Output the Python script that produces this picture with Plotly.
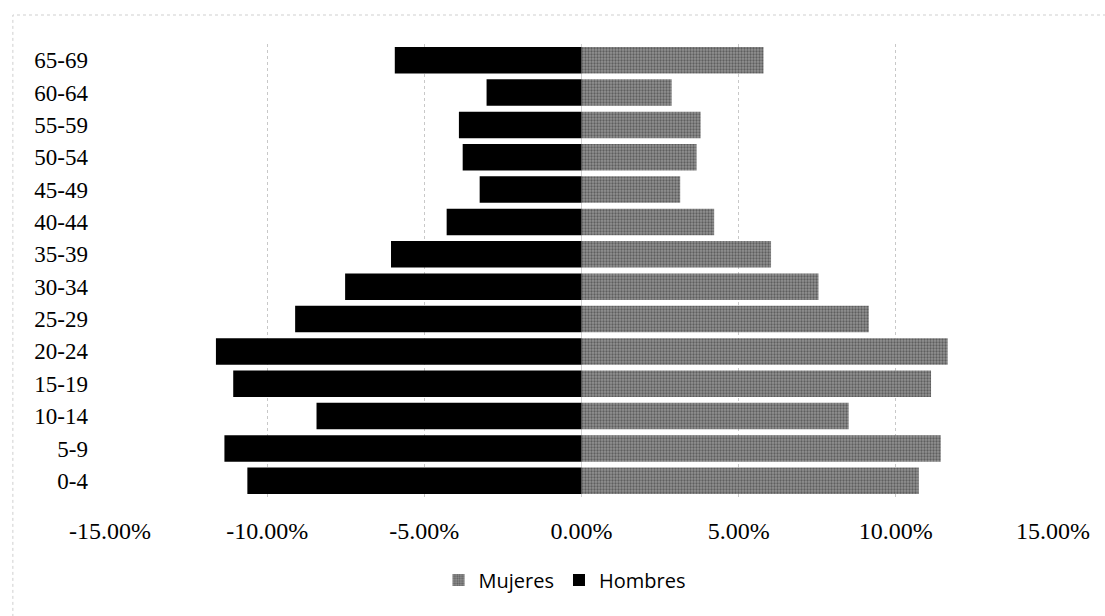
import plotly.graph_objects as go

grupos = ["0-4", "5-9", "10-14", "15-19", "20-24", "25-29", "30-34",
          "35-39", "40-44", "45-49", "50-54", "55-59", "60-64", "65-69"]
mujeres = [10.73, 11.43, 8.50, 11.12, 11.65, 9.14, 7.54,
           6.03, 4.22, 3.14, 3.66, 3.79, 2.87, 5.79]
hombres = [10.63, 11.36, 8.43, 11.08, 11.63, 9.11, 7.52,
           6.06, 4.29, 3.24, 3.78, 3.90, 3.02, 5.94]
tick_vals = [-15, -10, -5, 0, 5, 10, 15]
tick_text = ["-15.00%", "-10.00%", "-5.00%", "0.00%", "5.00%", "10.00%", "15.00%"]

fig = go.Figure()
fig.add_trace(go.Bar(
    y=grupos, x=mujeres, name="Mujeres", orientation="h",
    marker=dict(color="#929292", line=dict(width=0),
                pattern=dict(shape=".", fgcolor="#2a2a2a", bgcolor="#929292",
                             size=3, solidity=0.45)),
))
fig.add_trace(go.Bar(
    y=grupos, x=[-v for v in hombres], name="Hombres", orientation="h",
    marker=dict(color="#000000", line=dict(width=0)),
))

fig.update_layout(
    width=1105, height=616,
    margin=dict(l=110, r=52, t=44, b=119, autoexpand=False),
    barmode="relative", bargap=0.18,
    plot_bgcolor="white", paper_bgcolor="white",
    font=dict(family="Liberation Serif", size=20, color="black"),
    legend=dict(orientation="h", x=0.482, xanchor="center", y=-0.183, yanchor="middle",
                font=dict(family="Open Sans", size=20, color="black"),
                traceorder="normal", itemwidth=30),
    showlegend=True,
    shapes=[dict(type="rect", xref="paper", yref="paper", x0=-0.103, x1=1.07,
                 y0=-0.28, y1=1.064, line=dict(color="#cfcfcf", width=1, dash="dot"))],
)
fig.update_xaxes(
    range=[-15, 15], tickvals=tick_vals, ticktext=tick_text, automargin=False,
    showgrid=True, gridcolor="#c8c8c8", griddash="dot", gridwidth=1,
    zeroline=True, zerolinecolor="#d0d0d0", zerolinewidth=1,
    showline=False, ticks="", ticklabelstandoff=17,
    tickfont=dict(family="Liberation Serif", size=24),
)
fig.update_yaxes(
    categoryorder="array", categoryarray=grupos, automargin=False,
    showgrid=False, showline=False, ticks="", ticklabelstandoff=21,
    tickfont=dict(family="Liberation Serif", size=23),
)

fig.write_html("out.html", config={"displayModeBar": False},
               post_script="document.body.style.margin='0';document.body.style.overflow='hidden';")
